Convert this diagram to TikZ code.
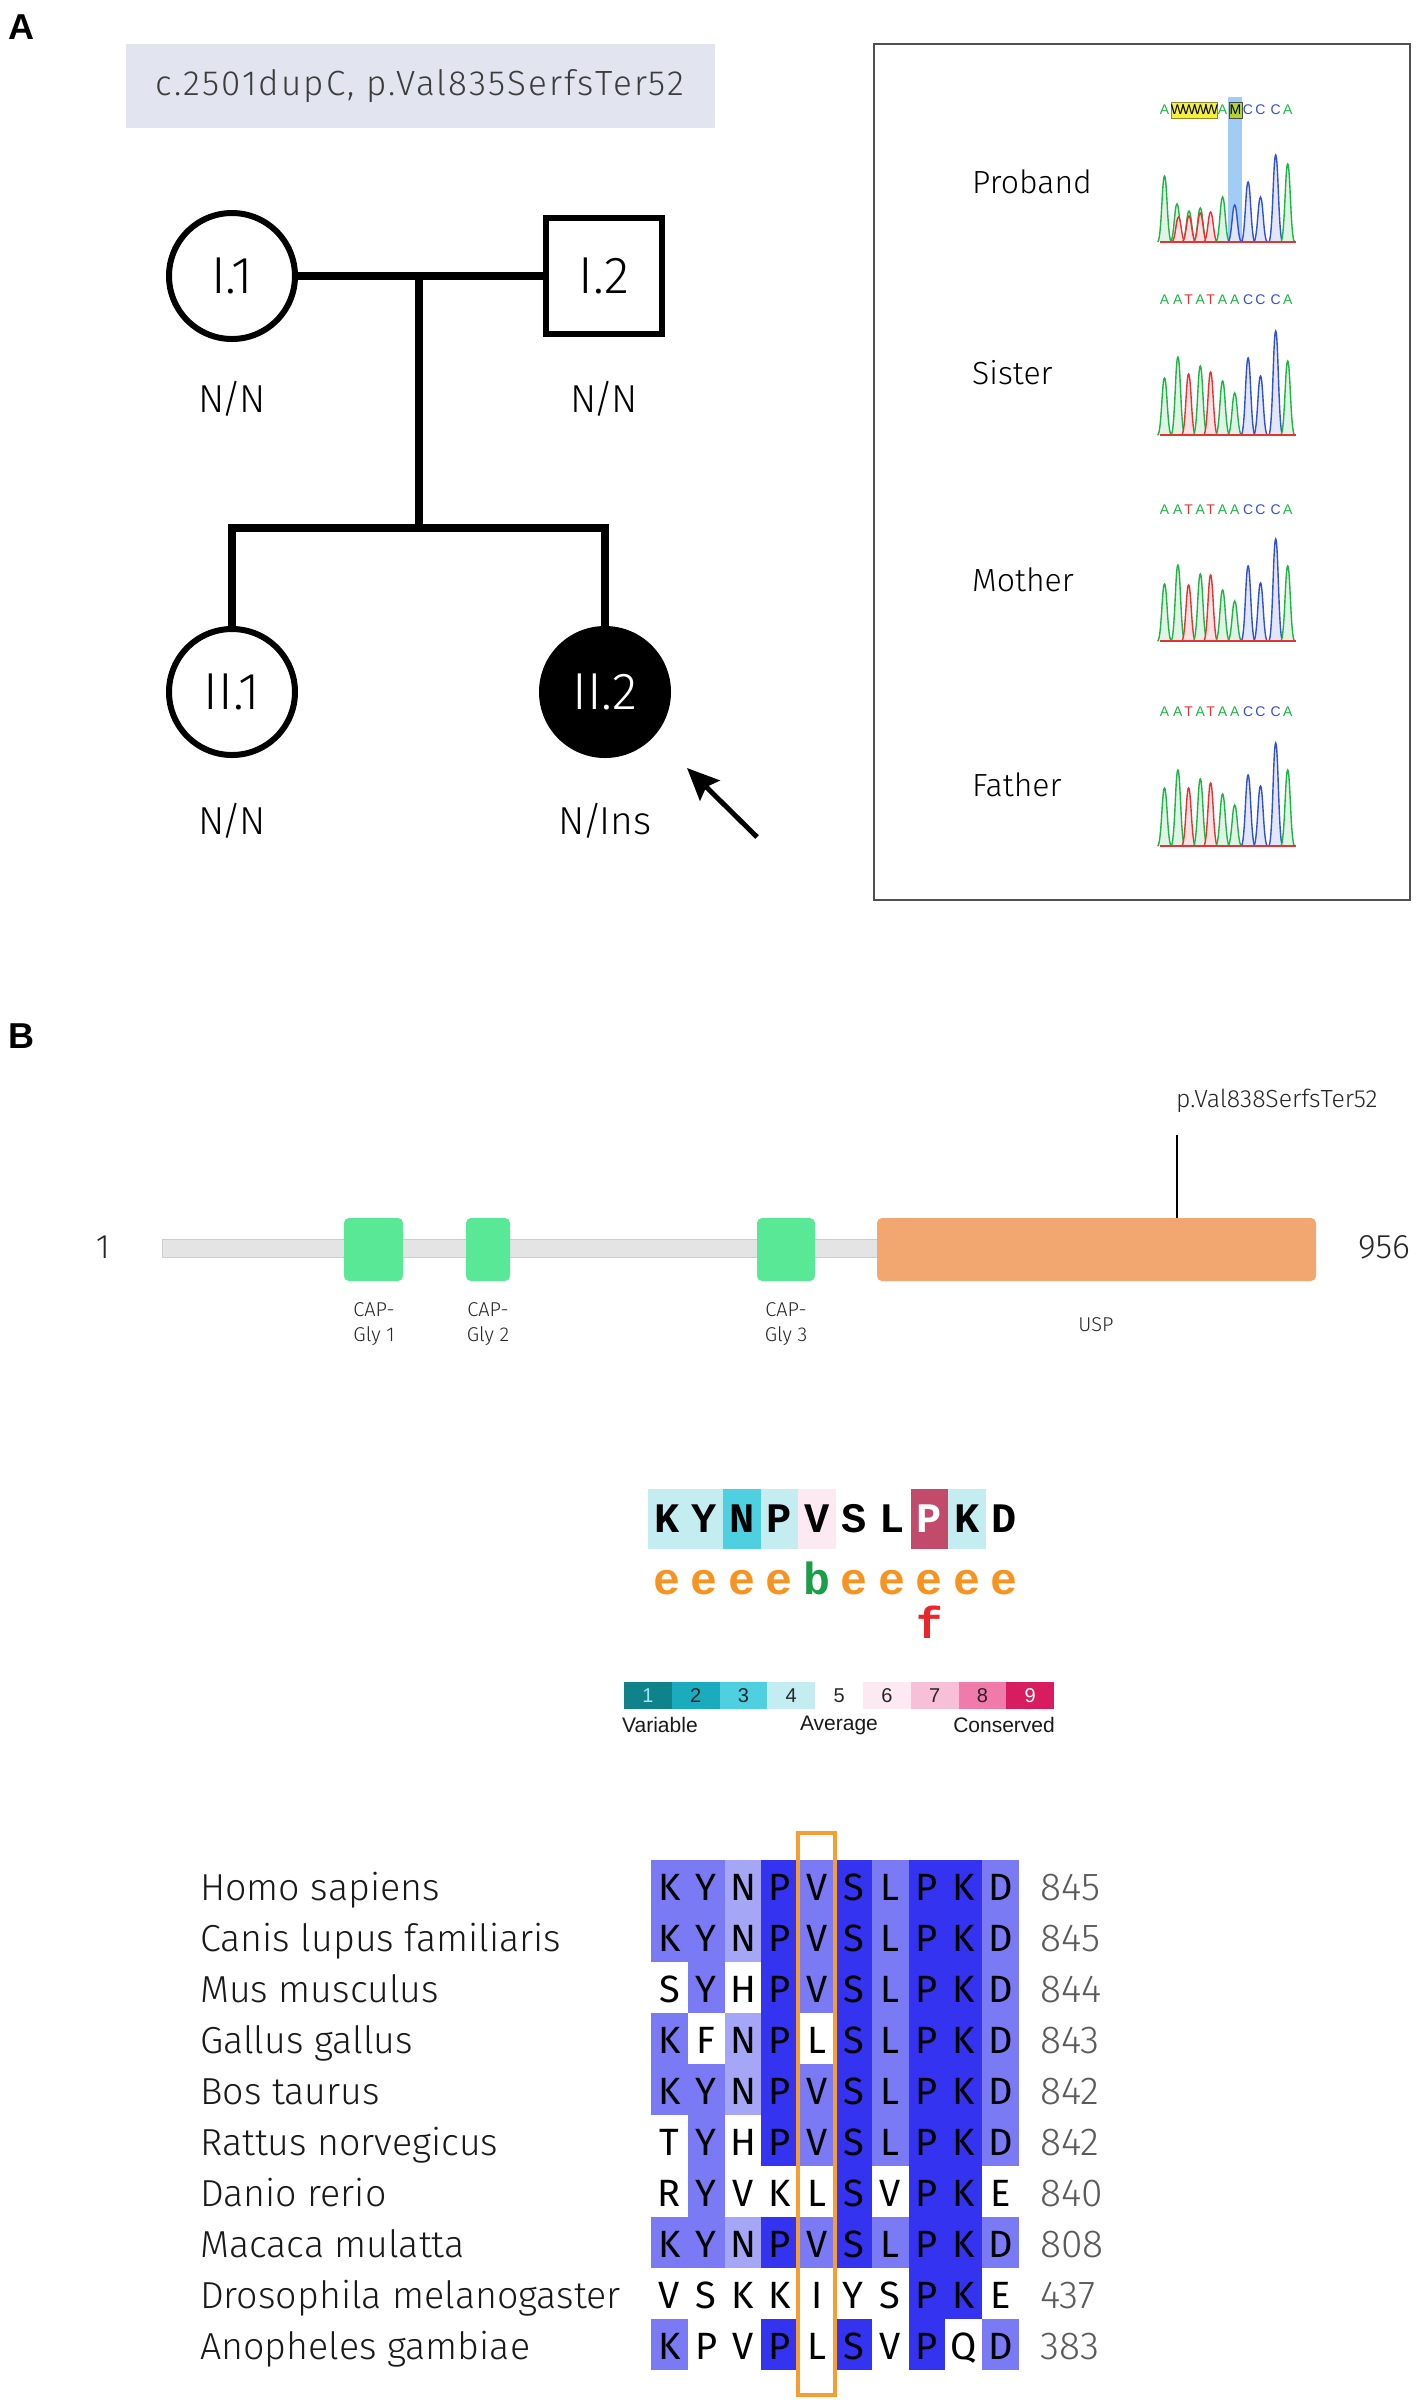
\documentclass[tikz,border=0pt]{standalone}
\usepackage{fontspec}
\setmainfont{Fira Sans Light}
\newfontfamily\firareg{Fira Sans}
\newfontfamily\arialf{Liberation Sans}
\newfontfamily\courf{Liberation Mono}
\usetikzlibrary{arrows.meta}
\newcommand\myfs[1]{\fontsize{#1}{#1}\selectfont}
\newcommand\nslash{\kern-2.5pt/\kern-2.5pt}
\definecolor{tbox}{RGB}{226,229,239}
\definecolor{tgray}{RGB}{60,60,60}
\definecolor{boxgray}{RGB}{80,80,80}
\definecolor{gA}{RGB}{30,180,70}
\definecolor{rT}{RGB}{230,50,50}
\definecolor{bC}{RGB}{50,80,210}
\definecolor{hlblue}{RGB}{160,204,245}
\definecolor{hlyel}{RGB}{245,240,60}
\definecolor{hlM}{RGB}{180,210,50}
\definecolor{barg}{RGB}{228,228,228}
\definecolor{barb}{RGB}{205,205,205}
\definecolor{dgreen}{RGB}{88,232,150}
\definecolor{uspo}{RGB}{243,167,112}
\definecolor{lg1}{RGB}{16,130,140}
\definecolor{lg2}{RGB}{26,172,190}
\definecolor{lg3}{RGB}{78,208,224}
\definecolor{lg4}{RGB}{196,237,242}
\definecolor{lg6}{RGB}{253,233,241}
\definecolor{lg7}{RGB}{248,192,216}
\definecolor{lg8}{RGB}{240,122,170}
\definecolor{lg9}{RGB}{216,28,96}
\definecolor{logoP}{RGB}{194,75,107}
\definecolor{eor}{RGB}{247,147,30}
\definecolor{bgr}{RGB}{26,158,72}
\definecolor{fred}{RGB}{232,38,43}
\definecolor{dk}{RGB}{52,52,240}
\definecolor{md}{RGB}{122,122,245}
\definecolor{lt}{RGB}{166,166,246}
\definecolor{orbox}{RGB}{247,158,50}
\definecolor{numg}{RGB}{90,90,90}
\newcommand\pk[4]{\filldraw[draw=#4,fill=#4!14,line width=1.4pt] ({#1-7},#2) .. controls ({#1-3},#2) and ({#1-2.5},{#2-#3}) .. (#1,{#2-#3}) .. controls ({#1+2.5},{#2-#3}) and ({#1+3},#2) .. ({#1+7},#2);}
\begin{document}
\begin{tikzpicture}[x=1pt,y=-1pt,every node/.style={inner sep=0pt},
  ped/.style={draw,line width=6pt,font=\myfs{52}},
  pline/.style={line width=8pt},
  geno/.style={font=\myfs{39}},
  plabel/.style={anchor=base west,font=\myfs{32}},
  seql/.style={font=\arialf\myfs{14}},
  dom/.style={fill=dgreen,rounded corners=5pt},
  dlab/.style={font=\myfs{20},text=black!85},
  lgnum/.style={font=\arialf\myfs{20}},
  lgtxt/.style={font=\arialf\myfs{21},text=black!90},
  alet/.style={anchor=base,font=\firareg\myfs{38}},
  spn/.style={anchor=base west,font=\myfs{37.6},text=black!90},
  numl/.style={anchor=base west,font=\myfs{39},text=numg}]
\fill[white] (0,0) rectangle (1418,2402);
\useasboundingbox (0,0) rectangle (1418,2402);

% ---------- Panel A ----------
\node[font=\arialf\bfseries\myfs{36}] (labA) at (21,27) {A};
\node[fill=tbox,minimum width=589pt,minimum height=84pt,font=\myfs{35},text=tgray] (title) at (420,86) {\addfontfeatures{LetterSpace=6}c.2501dupC, p.Val835SerfsTer52};

\node[ped,circle,minimum size=126pt] (I1) at (232,276) {I.1};
\node[ped,rectangle,minimum size=116pt] (I2) at (604,276) {I.2};
\node[ped,circle,minimum size=126pt] (II1) at (232,692) {II.1};
\node[ped,circle,minimum size=126pt,fill=black,text=white] (II2) at (605,692) {II.2};
\coordinate (mid) at (419,276);
\coordinate (sib) at (419,528);
\draw[pline] (I1) -- (I2);
\draw[pline] (mid) -- (sib);
\draw[pline] (II1) |- (sib) -| (II2);
\node[geno] (g1) at (232,399) {N\nslash N};
\node[geno] (g2) at (604,399) {N\nslash N};
\node[geno] (g3) at (232,821) {N\nslash N};
\node[geno] (g4) at (605,821) {N\nslash Ins};
\coordinate (at1) at (757,837);
\coordinate (ah1) at (687,768);
\draw[line width=5pt,-{Stealth[length=32pt,width=28pt,inset=5pt]}] (at1) -- (ah1);

% chromatogram panel
\draw[boxgray,line width=2pt] (874,44) rectangle (1410,900);
\node[plabel] (lp) at (972,193) {Proband};
\node[plabel] (ls) at (972,384) {Sister};
\node[plabel] (lm) at (972,591) {Mother};
\node[plabel] (lf) at (972,796) {Father};

% proband
\fill[hlblue] (1228,97) rectangle (1242,242);
\filldraw[fill=hlyel,draw=olive!70!gray,line width=0.8pt] (1171,102) rectangle (1217,118);
\filldraw[fill=hlM,draw=black!70,line width=0.8pt] (1229,102) rectangle (1242,118);
\foreach \x/\l/\c [count=\i] in {1164.5/A/gA,1177.5/W/black,1189/W/black,1200.5/W/black,1211.5/W/black,1222.6/A/gA,1235.5/M/black,1248/C/bC,1260.5/C/bC,1275.7/C/bC,1287.7/A/gA}
  \node[seql,text=\c] (pl\i) at (\x,110) {\l};
\foreach \x/\h/\c in {1164.5/66/gA,1177/38/gA,1178.5/25/rT,1189/31/gA,1189/26/rT,1200.3/34/gA,1200.3/29/rT,1210.6/30/rT,1222.6/45/gA,1234.7/18/gA,1234.7/37/bC,1248.1/60/bC,1260.5/45/bC,1275.7/87/bC,1287.7/78/gA}
  \pk{\x}{242}{\h}{\c};
\draw[rT,line width=1.2pt] (1160,242) -- (1296,242);

% normal traces
\foreach \yb/\yl/\ha/\hb/\hc/\hd/\he/\hf/\hg/\hh/\hi/\hj/\hk in {435/300/57/78/61/69/63/54/42/77/59/104/74, 641/510/57/76/56/67/66/51/40/75/58/102/75, 846/712/58/76/58/67/63/52/41/71/60/103/76}{
  \foreach \x/\l/\c [count=\i] in {1164.5/A/gA,1177.9/A/gA,1188.6/T/rT,1200.3/A/gA,1210.6/T/rT,1222.6/A/gA,1234.7/A/gA,1248.1/C/bC,1260.5/C/bC,1275.7/C/bC,1287.7/A/gA}
    \node[seql,text=\c] (n\yb-\i) at (\x,\yl) {\l};
  \pk{1164.5}{\yb}{\ha}{gA}
  \pk{1177.9}{\yb}{\hb}{gA}
  \pk{1188.6}{\yb}{\hc}{rT}
  \pk{1200.3}{\yb}{\hd}{gA}
  \pk{1210.6}{\yb}{\he}{rT}
  \pk{1222.6}{\yb}{\hf}{gA}
  \pk{1234.7}{\yb}{\hg}{gA}
  \pk{1248.1}{\yb}{\hh}{bC}
  \pk{1260.5}{\yb}{\hi}{bC}
  \pk{1275.7}{\yb}{\hj}{bC}
  \pk{1287.7}{\yb}{\hk}{gA}
  \draw[rT,line width=1.2pt] (1160,\yb) -- (1296,\yb);
}

% ---------- Panel B ----------
\node[font=\arialf\bfseries\myfs{36}] (labB) at (21,1036) {B};
\node[font=\myfs{34},text=black!85] (n1) at (103,1247) {1};
\node[font=\myfs{34},text=black!85] (n956) at (1384,1247) {956};
\filldraw[fill=barg,draw=barb,line width=1pt] (162,1239) rectangle (880,1257);
\fill[dom] (344,1218) rectangle (403,1281);
\fill[dom] (466,1218) rectangle (510,1281);
\fill[dom] (757,1218) rectangle (815,1281);
\fill[uspo,rounded corners=5pt] (877,1218) rectangle (1316,1281);
\coordinate (mtop) at (1177,1135);
\coordinate (mbot) at (1177,1218);
\draw[line width=1.5pt] (mtop) -- (mbot);
\node[anchor=base west,font=\myfs{24.8},text=black!85] (mlab) at (1176,1107) {p.Val838SerfsTer52};
\node[dlab,align=center] (d1) at (374,1324) {CAP-\\[5pt]Gly 1};
\node[dlab,align=center] (d2) at (488,1324) {CAP-\\[5pt]Gly 2};
\node[dlab,align=center] (d3) at (786,1324) {CAP-\\[5pt]Gly 3};
\node[dlab] (d4) at (1096,1325) {USP};

% logo
\foreach \l/\c/\t [count=\i from 0] in {K/lg4/black,Y/lg4/black,N/lg3/black,P/lg4/black,V/lg6/black,S/white/black,L/white/black,P/logoP/white,K/lg4/black,D/white/black}{
  \fill[\c] ({648+\i*37.5},1489) rectangle ++(37.6,60);
  \node[anchor=base,font=\courf\bfseries\myfs{42},text=\t] (lg\i) at ({666.75+\i*37.5},1532) {\l};
}
\foreach \l/\c [count=\i from 0] in {e/eor,e/eor,e/eor,e/eor,b/bgr,e/eor,e/eor,e/eor,e/eor,e/eor}
  \node[anchor=base,font=\courf\bfseries\myfs{45},text=\c] (le\i) at ({666.75+\i*37.5},1594) {\l};
\node[anchor=base,font=\courf\bfseries\myfs{44},text=fred] (lf7) at (929.25,1638) {f};

% legend
\foreach \c/\t [count=\i] in {lg1/cyan!35,lg2/black!85,lg3/black!85,lg4/black!85,white/black!85,lg6/black!85,lg7/black!85,lg8/black!85,lg9/white}{
  \fill[\c] ({624+(\i-1)*47.8},1682) rectangle ++(48,27);
  \node[lgnum,text=\t] (lgn\i) at ({624+(\i-0.5)*47.8},1695.5) {\i};
}
\node[lgtxt,anchor=west] (lvar) at (622,1725) {Variable};
\node[lgtxt] (lavg) at (839,1725) {Average};
\node[lgtxt,anchor=east] (lcon) at (1055,1725) {Conserved};

% alignment
\foreach \sp/\num/\cells [count=\r from 0] in {
 Homo sapiens/845/{K/md,Y/md,N/lt,P/dk,V/md,S/dk,L/md,P/dk,K/dk,D/md},
 Canis lupus familiaris/845/{K/md,Y/md,N/lt,P/dk,V/md,S/dk,L/md,P/dk,K/dk,D/md},
 Mus musculus/844/{S/white,Y/md,H/white,P/dk,V/md,S/dk,L/md,P/dk,K/dk,D/md},
 Gallus gallus/843/{K/md,F/white,N/lt,P/dk,L/white,S/dk,L/md,P/dk,K/dk,D/md},
 Bos taurus/842/{K/md,Y/md,N/lt,P/dk,V/md,S/dk,L/md,P/dk,K/dk,D/md},
 Rattus norvegicus/842/{T/white,Y/md,H/white,P/dk,V/md,S/dk,L/md,P/dk,K/dk,D/md},
 Danio rerio/840/{R/white,Y/md,V/white,K/white,L/white,S/dk,V/white,P/dk,K/dk,E/white},
 Macaca mulatta/808/{K/md,Y/md,N/lt,P/dk,V/md,S/dk,L/md,P/dk,K/dk,D/md},
 Drosophila melanogaster/437/{V/white,S/white,K/white,K/white,I/white,Y/white,S/white,P/dk,K/dk,E/white},
 Anopheles gambiae/383/{K/md,P/white,V/white,P/dk,L/white,S/dk,V/white,P/dk,Q/white,D/md}}{
  \node[spn] (sp\r) at (200,{1900+\r*51}) {\sp};
  \node[numl] (nm\r) at (1040,{1900+\r*51}) {\num};
  \foreach \l/\col [count=\c from 0] in \cells {
    \fill[\col] ({651+\c*36.8},{1860+\r*51}) rectangle ++(37.2,51.4);
    \node[alet] (al\r-\c) at ({669.4+\c*36.8},{1900+\r*51}) {\l};
  }
}
\draw[orbox,line width=4pt] (798,1833) rectangle (835,2395);
\end{tikzpicture}
\end{document}
